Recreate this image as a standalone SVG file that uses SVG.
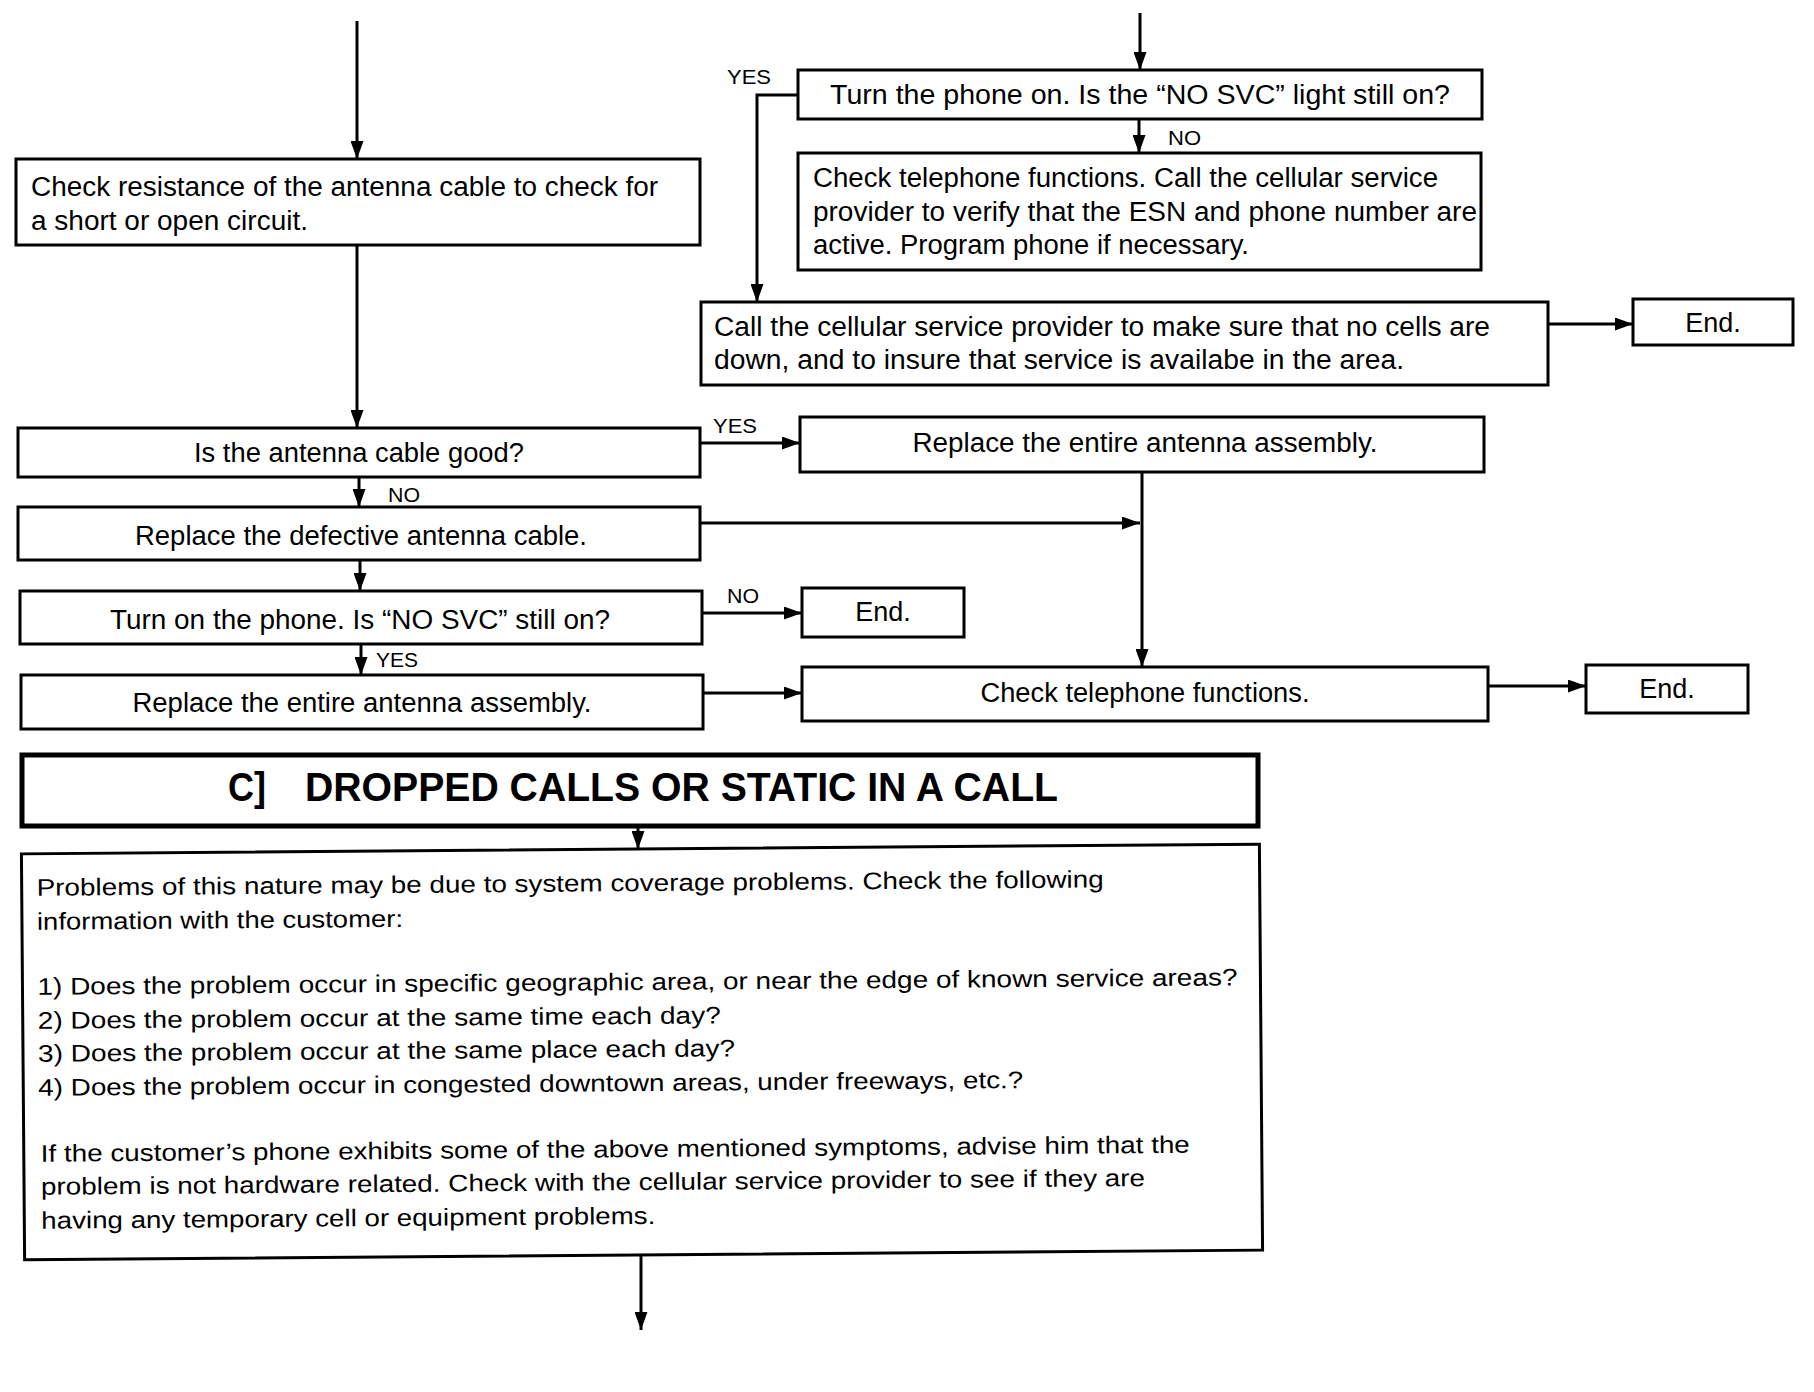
<svg xmlns="http://www.w3.org/2000/svg" width="1814" height="1392" viewBox="0 0 1814 1392">
<style>
.box{fill:#fff;stroke:#000;stroke-width:3}
.hdr{fill:#fff;stroke:#000;stroke-width:5}
.t{font-family:'Liberation Sans',Arial,Helvetica,sans-serif;font-size:27px;fill:#000}
.b{font-size:24px}
.m{text-anchor:middle}
.lbl{font-family:'Liberation Sans',Arial,Helvetica,sans-serif;font-size:20px;fill:#000}
.h{font-family:'Liberation Sans',Arial,Helvetica,sans-serif;font-size:40px;font-weight:bold;fill:#000}
.conn{stroke:#000;stroke-width:3;fill:none;marker-end:url(#ah)}
</style>
<defs>
<marker id="ah" markerUnits="userSpaceOnUse" markerWidth="18" markerHeight="13" viewBox="0 0 18 13" refX="18" refY="6.5" orient="auto">
<path d="M0,0 L18,6.5 L0,13 z" fill="#000"/>
</marker>
</defs>
<rect width="1814" height="1392" fill="#fff"/>

<g id="connectors">
<path class="conn" d="M357,21 V159"/>
<path class="conn" d="M357,245 V428"/>
<path class="conn" d="M359,477 V507"/>
<path class="conn" d="M360,560 V591"/>
<path class="conn" d="M361,644 V675"/>
<path class="conn" d="M1140,13 V70"/>
<path class="conn" d="M798,95 H757 V302"/>
<path class="conn" d="M1139,119 V153"/>
<path class="conn" d="M1548,324 H1633"/>
<path class="conn" d="M700,443 H800"/>
<path class="conn" d="M1142,472 V667"/>
<path class="conn" d="M700,523 H1140"/>
<path class="conn" d="M702,613 H802"/>
<path class="conn" d="M703,693 H802"/>
<path class="conn" d="M1488,686 H1586"/>
<path class="conn" d="M638,828 V849"/>
<path class="conn" d="M641,1255 V1330"/>
<text class="lbl" x="388" y="502" textLength="32" lengthAdjust="spacingAndGlyphs">NO</text>
<text class="lbl" x="376" y="667" textLength="42" lengthAdjust="spacingAndGlyphs">YES</text>
<text class="lbl" x="727" y="84" textLength="44" lengthAdjust="spacingAndGlyphs">YES</text>
<text class="lbl" x="1168" y="145" textLength="33" lengthAdjust="spacingAndGlyphs">NO</text>
<text class="lbl" x="713" y="433" textLength="44" lengthAdjust="spacingAndGlyphs">YES</text>
<text class="lbl" x="727" y="603" textLength="32" lengthAdjust="spacingAndGlyphs">NO</text>
</g>

<g id="check-resistance">
<rect class="box" x="16" y="159" width="684" height="86"/>
<text class="t" x="31" y="196" textLength="627" lengthAdjust="spacingAndGlyphs">Check resistance of the antenna cable to check for</text>
<text class="t" x="31" y="230" textLength="277" lengthAdjust="spacingAndGlyphs">a short or open circuit.</text>
</g>

<g id="cable-good">
<rect class="box" x="18" y="428" width="682" height="49"/>
<text class="t m" x="359" y="462" textLength="330" lengthAdjust="spacingAndGlyphs">Is the antenna cable good?</text>
</g>

<g id="replace-cable">
<rect class="box" x="18" y="507" width="682" height="53"/>
<text class="t m" x="361" y="545" textLength="452" lengthAdjust="spacingAndGlyphs">Replace the defective antenna cable.</text>
</g>

<g id="turn-on-phone">
<rect class="box" x="20" y="591" width="682" height="53"/>
<text class="t m" x="360" y="629" textLength="500" lengthAdjust="spacingAndGlyphs">Turn on the phone. Is “NO SVC” still on?</text>
</g>

<g id="replace-assembly-left">
<rect class="box" x="21" y="675" width="682" height="54"/>
<text class="t m" x="362" y="712" textLength="459" lengthAdjust="spacingAndGlyphs">Replace the entire antenna assembly.</text>
</g>

<g id="turn-phone-on">
<rect class="box" x="798" y="70" width="684" height="49"/>
<text class="t m" x="1140" y="104" textLength="620" lengthAdjust="spacingAndGlyphs">Turn the phone on. Is the “NO SVC” light still on?</text>
</g>

<g id="check-functions-call">
<rect class="box" x="798" y="153" width="683" height="117"/>
<text class="t" x="813" y="187" textLength="625" lengthAdjust="spacingAndGlyphs">Check telephone functions. Call the cellular service</text>
<text class="t" x="813" y="221" textLength="664" lengthAdjust="spacingAndGlyphs">provider to verify that the ESN and phone number are</text>
<text class="t" x="813" y="254" textLength="436" lengthAdjust="spacingAndGlyphs">active. Program phone if necessary.</text>
</g>

<g id="call-provider">
<rect class="box" x="701" y="302" width="847" height="83"/>
<text class="t" x="714" y="336" textLength="776" lengthAdjust="spacingAndGlyphs">Call the cellular service provider to make sure that no cells are</text>
<text class="t" x="714" y="369" textLength="690" lengthAdjust="spacingAndGlyphs">down, and to insure that service is availabe in the area.</text>
</g>

<g id="end-1">
<rect class="box" x="1633" y="299" width="160" height="46"/>
<text class="t m" x="1713" y="332">End.</text>
</g>

<g id="replace-assembly-right">
<rect class="box" x="800" y="417" width="684" height="55"/>
<text class="t m" x="1145" y="452" textLength="465" lengthAdjust="spacingAndGlyphs">Replace the entire antenna assembly.</text>
</g>

<g id="end-2">
<rect class="box" x="802" y="588" width="162" height="49"/>
<text class="t m" x="883" y="621">End.</text>
</g>

<g id="check-functions">
<rect class="box" x="802" y="667" width="686" height="54"/>
<text class="t m" x="1145" y="702" textLength="329" lengthAdjust="spacingAndGlyphs">Check telephone functions.</text>
</g>

<g id="end-3">
<rect class="box" x="1586" y="665" width="162" height="48"/>
<text class="t m" x="1667" y="698">End.</text>
</g>

<g id="section-c">
<rect class="hdr" x="22" y="755" width="1236" height="71"/>
<text class="h" x="228" y="801" textLength="38" lengthAdjust="spacingAndGlyphs">C]</text>
<text class="h" x="305" y="801" textLength="753" lengthAdjust="spacingAndGlyphs">DROPPED CALLS OR STATIC IN A CALL</text>
</g>

<g id="coverage-info" transform="rotate(-0.45 642 1052)">
<rect class="box" x="23" y="849" width="1238" height="406"/>
<text class="t b" x="38" y="891" textLength="1067" lengthAdjust="spacingAndGlyphs">Problems of this nature may be due to system coverage problems. Check the following</text>
<text class="t b" x="38" y="925" textLength="366" lengthAdjust="spacingAndGlyphs">information with the customer:</text>
<text class="t b" x="38" y="990" textLength="1200" lengthAdjust="spacingAndGlyphs">1) Does the problem occur in specific geographic area, or near the edge of known service areas?</text>
<text class="t b" x="38" y="1024" textLength="683" lengthAdjust="spacingAndGlyphs">2) Does the problem occur at the same time each day?</text>
<text class="t b" x="38" y="1057" textLength="697" lengthAdjust="spacingAndGlyphs">3) Does the problem occur at the same place each day?</text>
<text class="t b" x="38" y="1091" textLength="985" lengthAdjust="spacingAndGlyphs">4) Does the problem occur in congested downtown areas, under freeways, etc.?</text>
<text class="t b" x="40" y="1157" textLength="1149" lengthAdjust="spacingAndGlyphs">If the customer’s phone exhibits some of the above mentioned symptoms, advise him that the</text>
<text class="t b" x="40" y="1190" textLength="1104" lengthAdjust="spacingAndGlyphs">problem is not hardware related. Check with the cellular service provider to see if they are</text>
<text class="t b" x="40" y="1224" textLength="614" lengthAdjust="spacingAndGlyphs">having any temporary cell or equipment problems.</text>
</g>
</svg>
